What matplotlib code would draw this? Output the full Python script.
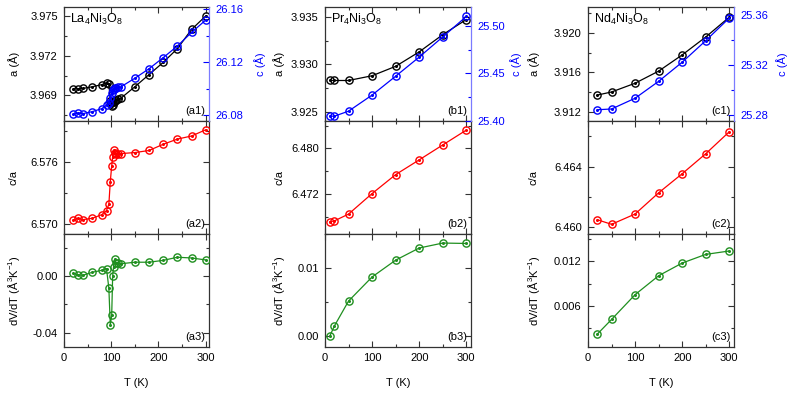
import matplotlib
matplotlib.use("Agg")
import matplotlib.pyplot as plt
from matplotlib.ticker import MultipleLocator, FormatStrFormatter

plt.rcParams['font.family'] = ['Liberation Sans', 'DejaVu Sans']
plt.rcParams['axes.unicode_minus'] = False
plt.rcParams['mathtext.fontset'] = 'custom'
plt.rcParams['mathtext.rm'] = 'Liberation Sans'
plt.rcParams['mathtext.it'] = 'Liberation Sans'

# ---------------- data ----------------
# La4Ni3O8
T_la = [20, 30, 40, 60, 80, 90, 95, 98, 101, 103, 105, 107, 110, 115, 120,
        150, 180, 210, 240, 270, 300]
a_la = [3.96949, 3.96951, 3.96953, 3.96966, 3.96982, 3.96995, 3.96987, 3.96860,
        3.96820, 3.96827, 3.96847, 3.96862, 3.96867, 3.96870, 3.96878,
        3.96966, 3.97058, 3.97150, 3.97254, 3.97399, 3.97501]
c_la = [26.0805, 26.0815, 26.0810, 26.0825, 26.0848, 26.0874, 26.0894, 26.0932,
        26.0963, 26.0989, 26.0999, 26.1004, 26.1006, 26.1009, 26.1012,
        26.1078, 26.1150, 26.1234, 26.1322, 26.1425, 26.1519]
ca_la = [6.5704, 6.57055, 6.57042, 6.57055, 6.5709, 6.5713, 6.5719, 6.5741,
         6.5756, 6.5765, 6.5771, 6.5769, 6.5768, 6.5768, 6.5768,
         6.5769, 6.5771, 6.5777, 6.5782, 6.5785, 6.5791]
dv_la = [0.0019, 0.0007, 0.0005, 0.0026, 0.0040, 0.0052, -0.0087, -0.0346,
         -0.0277, -0.0002, 0.0066, 0.0118, 0.0092, 0.0088, 0.0086,
         0.0097, 0.0097, 0.0110, 0.0132, 0.0127, 0.0113]

# Pr4Ni3O8
T_pr = [10, 20, 50, 100, 150, 200, 250, 300]
a_pr = [3.9283, 3.9283, 3.9283, 3.9288, 3.92979, 3.93131, 3.93312, 3.93471]
c_pr = [25.4046, 25.4046, 25.4099, 25.4269, 25.4468, 25.4670, 25.4883, 25.5099]
ca_pr = [6.46708, 6.46725, 6.46844, 6.47205, 6.47538, 6.47797, 6.48059, 6.48320]
dv_pr = [0.0000, 0.00152, 0.00517, 0.00871, 0.01118, 0.01296, 0.01369, 0.01363]

# Nd4Ni3O8
T_nd = [20, 50, 100, 150, 200, 250, 300]
a_nd = [3.91372, 3.91403, 3.91491, 3.91613, 3.91776, 3.91956, 3.92156]
c_nd = [25.2844, 25.2850, 25.2936, 25.3071, 25.3224, 25.3396, 25.3577]
ca_nd = [6.4605, 6.4602, 6.46088, 6.46228, 6.46354, 6.46486, 6.46631]
dv_nd = [0.00217, 0.00414, 0.0075, 0.01006, 0.01178, 0.01295, 0.01341]

names = ['La$_4$Ni$_3$O$_8$', 'Pr$_4$Ni$_3$O$_8$', 'Nd$_4$Ni$_3$O$_8$']
letters = ['a', 'b', 'c']

# ---------------- style ----------------
FS = 8
BLUE = '#0000ff'
RED = '#ff0000'
GREEN = '#1f8f1f'
SPINE = '#333333'
W, H = 789, 398

fig = plt.figure(figsize=(W / 100, H / 100), dpi=100)

col_px = [(64, 209), (325, 471), (588, 734)]
row_px = [(7, 121), (121, 234), (234, 347)]
xmax = [307, 310, 310]

ylims = [
    [(3.96707, 3.97569), (6.56903, 6.57995), (-0.0501, 0.0296)],
    [(3.92404, 3.93603), (6.46494, 6.4848), (-0.00158, 0.01502)],
    [(3.91111, 3.92258), (6.45956, 6.46702), (0.00041, 0.01571)],
]
rlims = [(26.0754, 26.1618), (25.3995, 25.5199), (25.2754, 25.3665)]
ymaj = [[0.003, 0.006, 0.04], [0.005, 0.008, 0.01], [0.004, 0.004, 0.006]]
yfmt = [['%.3f', '%.3f', '%.2f'], ['%.3f', '%.3f', '%.2f'], ['%.3f', '%.3f', '%.3f']]
rmaj = [0.04, 0.05, 0.04]
ylab_x = [-0.345, -0.315, -0.37]
rlab_x = [1.352, 1.308, 1.327]

data = [
    (T_la, a_la, c_la, ca_la, dv_la),
    (T_pr, a_pr, c_pr, ca_pr, dv_pr),
    (T_nd, a_nd, c_nd, ca_nd, dv_nd),
]


def px_rect(cx, ry):
    x0, x1 = cx
    y0, y1 = ry
    return [x0 / W, 1 - y1 / H, (x1 - x0) / W, (y1 - y0) / H]


def plot_series(ax, x, y, color):
    ax.plot(x, y, '-', color=color, lw=0.9, marker='o', ms=5.2, mfc='none',
            mec=color, mew=1.0, zorder=3)
    ax.plot(x, y, 'o', color=color, ms=1.2, zorder=4)


def style_axis(ax, maj, fmt, xm, bottom_labels):
    ax.set_xlim(0, xm)
    ax.xaxis.set_major_locator(MultipleLocator(100))
    ax.xaxis.set_minor_locator(MultipleLocator(50))
    ax.yaxis.set_major_locator(MultipleLocator(maj))
    ax.yaxis.set_minor_locator(MultipleLocator(maj / 2))
    ax.yaxis.set_major_formatter(FormatStrFormatter(fmt))
    ax.tick_params(which='both', direction='in', top=True, bottom=True,
                   labelsize=FS, pad=4.5, color=SPINE)
    ax.tick_params(which='major', length=4, width=0.8)
    ax.tick_params(which='minor', length=2.3, width=0.8)
    ax.tick_params(axis='x', labelbottom=bottom_labels)
    for s in ax.spines.values():
        s.set_color(SPINE)
        s.set_linewidth(0.9)


for j in range(3):
    T, a, c, ca, dv = data[j]
    L = letters[j]
    axs = []
    for i in range(3):
        ax = fig.add_axes(px_rect(col_px[j], row_px[i]))
        ax.set_ylim(*ylims[j][i])
        style_axis(ax, ymaj[j][i], yfmt[j][i], xmax[j], i == 2)
        axs.append(ax)
    ax1, ax2, ax3 = axs

    # top panel: a (left) and c (right)
    ax1.tick_params(axis='y', which='both', right=False)
    plot_series(ax1, T, a, 'black')
    axr = ax1.twinx()
    axr.set_ylim(*rlims[j])
    axr.yaxis.set_major_locator(MultipleLocator(rmaj[j]))
    axr.yaxis.set_minor_locator(MultipleLocator(rmaj[j] / 2))
    axr.yaxis.set_major_formatter(FormatStrFormatter('%.2f'))
    axr.tick_params(which='both', direction='in', labelsize=FS, pad=4.5,
                    color=BLUE, labelcolor=BLUE)
    axr.tick_params(which='major', length=4, width=0.8)
    axr.tick_params(which='minor', length=2.3, width=0.8)
    for s in axr.spines.values():
        s.set_visible(False)
    axr.spines['right'].set_visible(True)
    axr.spines['right'].set_color('#7b7bff')
    axr.spines['right'].set_linewidth(0.9)
    plot_series(axr, T, c, BLUE)
    ax1.spines['right'].set_visible(False)

    ax2.tick_params(axis='y', which='both', right=True)
    ax3.tick_params(axis='y', which='both', right=True)
    plot_series(ax2, T, ca, RED)
    plot_series(ax3, T, dv, GREEN)

    ax1.set_ylabel('a (Å)', fontsize=FS)
    ax2.set_ylabel('c/a', fontsize=FS)
    ax3.set_ylabel('dV/dT (Å$^3$K$^{-1}$)', fontsize=FS)
    for ax in axs:
        ax.yaxis.set_label_coords(ylab_x[j], 0.5)
        ax.yaxis.label.set_va('center')
    axr.set_ylabel('c (Å)', fontsize=FS, color=BLUE)
    axr.yaxis.set_label_position('right')
    axr.yaxis.set_label_coords(rlab_x[j], 0.5)
    axr.yaxis.label.set_va('center')
    axr.yaxis.label.set_rotation(90)

    ax3.set_xlabel('T (K)', fontsize=FS)
    ax3.xaxis.set_label_coords(0.5, -0.32)
    ax3.xaxis.label.set_va('center')

    ax1.text(0.04, 0.955, names[j], transform=ax1.transAxes, ha='left',
             va='top', fontsize=9)
    for i, ax in enumerate(axs):
        ax.text(0.975, 0.045, '(%s%d)' % (L, i + 1), transform=ax.transAxes,
                ha='right', va='bottom', fontsize=FS, zorder=5)

fig.savefig('out.png', dpi=100)
